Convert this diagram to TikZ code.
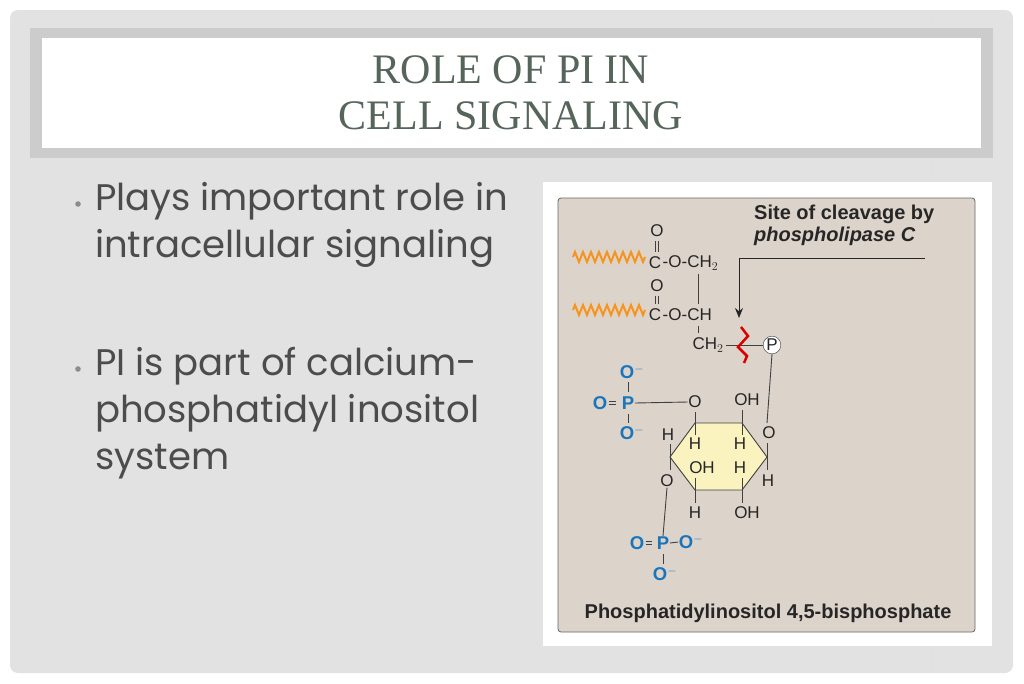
\documentclass[tikz,border=0pt]{standalone}
\usepackage{fontspec}
\setmainfont{Liberation Sans}
\newfontfamily\titlefont{Liberation Serif}
\newfontfamily\bodyfont{Poppins}
\usetikzlibrary{arrows.meta,decorations.pathmorphing}
\definecolor{bg}{HTML}{E2E2E2}
\definecolor{tan}{HTML}{DCD3CA}
\definecolor{ttl}{HTML}{56655A}
\definecolor{bluec}{HTML}{1B75BB}
\definecolor{orng}{HTML}{F7941D}
\definecolor{ring}{HTML}{FAF3C0}
\tikzset{
 ch/.style={font=\fontsize{17}{17}\selectfont, inner sep=0.5pt, text=black!85},
 bl/.style={font=\fontsize{18.5}{18}\selectfont\bfseries, inner sep=0.5pt, text=bluec},
 bd/.style={line width=0.9pt, black!75},
 bullet/.style={font=\bodyfont\fontsize{37}{47}\selectfont, text=black!70, anchor=north west, align=left, inner sep=0}
}
\begin{document}
\begin{tikzpicture}[x=1pt,y=-1pt]
\useasboundingbox (0,0) rectangle (1024,683);
\fill[white] (0,0) rectangle (1024,683);
\fill[bg, rounded corners=8] (10,10) rectangle (1013,673);
\draw[black!12] (932,10) -- (932,673);
% title
\fill[black!20] (30,28) rectangle (993,158);
\fill[white] (42,38) rectangle (981,148);
\node[font=\titlefont\fontsize{42}{46}\selectfont, text=ttl, align=center] (title) at (511,93) {ROLE OF PI IN\\CELL SIGNALING};
% bullets
\node[bullet] (b1) at (95,182) {Plays important role in\\intracellular signaling};
\node[bullet] (b2) at (95,347) {PI is part of calcium-\\phosphatidyl inositol\\system};
\fill[black!45] (78,204) circle (2.8);
\fill[black!45] (78,369) circle (2.8);
% figure
\fill[white] (543,182) rectangle (992,646);
\draw[black!60, fill=tan, rounded corners=3, line width=0.8pt] (558,198) rectangle (975,632);
\node[font=\fontsize{20}{22}\selectfont\bfseries, text=black!85, align=left, anchor=north west, inner sep=0] (site) at (754,205) {Site of cleavage by\\\itshape phospholipase C};
\node[font=\fontsize{20}{22}\selectfont\bfseries, text=black!85] (cap) at (768,613) {Phosphatidylinositol 4,5-bisphosphate};
% lipid chains
\draw[orng, line width=2pt, decoration={zigzag, segment length=8, amplitude=5}, decorate] (573,257) -- (645,257);
\draw[orng, line width=2pt, decoration={zigzag, segment length=8, amplitude=5}, decorate] (573,310) -- (645,310);
\node[ch] (c1) at (655,263) {C};
\node[ch] (o1) at (657,231) {O};
\draw[bd] (655.5,241) -- (655.5,252) (658.5,241) -- (658.5,252);
\node[ch] (c2) at (655,315) {C};
\node[ch] (o2) at (657,286) {O};
\draw[bd] (655.5,296) -- (655.5,304) (658.5,296) -- (658.5,304);
\node[ch, anchor=west] (r1) at (662,263) {-O-CH$_2$};
\node[ch, anchor=west] (r2) at (662,315) {-O-CH};
\draw[bd] (698,274) -- (698,304) (698,326) -- (698,333);
\node[ch] (ch2) at (708,345) {CH$_2$};
% cleavage
\coordinate (arrS) at (925,258);
\coordinate (arrM) at (739,258);
\coordinate (arrE) at (739,318);
\draw[black!85, line width=1pt, -{Stealth[length=10pt,width=8pt]}] (arrS) -- (arrM) -- (arrE);
\node[draw=black!80, fill=white, circle, inner sep=0.5pt, minimum size=15pt, ch] (P) at (772,345) {P};
\draw[bd] (ch2.east) ++(2,0) -- (P.west);
\draw[red!85!black, line width=2.5pt] (741,327) -- (748,336) -- (738,347) -- (747,356) -- (744,363);
% inositol ring
\fill[ring, draw=black!75, line width=0.9pt] (695,423) -- (742,423) -- (767,457) -- (742,490) -- (695,490) -- (670,457) -- cycle;
\node[ch] (Ot) at (769,433) {O};
\draw[bd] (P.south) -- (767,423);
\draw[bd] (767,443) -- (767,457) -- (767,470);
\node[ch] (H6) at (768,481) {H};
\node[ch] (O1) at (695,402) {O};
\node[ch] (OH1) at (747,400) {OH};
\draw[bd] (695,412) -- (695,435) (742,410) -- (742,435);
\node[ch] (Ha) at (695,444) {H};
\node[ch] (Hb) at (740,444) {H};
\node[ch] (OHc) at (702,468) {OH};
\node[ch] (Hd) at (740,468) {H};
\draw[bd] (695,478) -- (695,503) (742,478) -- (742,503);
\node[ch] (Hl) at (668,435) {H};
\draw[bd] (670,444) -- (670,470);
\node[ch] (O5) at (667,481) {O};
\node[ch] (Hbot) at (695,513) {H};
\node[ch] (OHbot) at (747,513) {OH};
% phosphates
\node[bl] (Pa) at (628,403) {P};
\node[bl] (Oa) at (600,403) {O};
\node[bl] (Om1) at (632,372) {O$^{-}$};
\node[bl] (Om2) at (632,433) {O$^{-}$};
\draw[bd] (Oa.east) ++(1,-1.5) -- ++(7,0) ++(0,3) -- ++(-7,0);
\draw[bd] (628,382) -- (628,392) (628,414) -- (628,423);
\draw[bd] (Pa.east) -- (O1.west);
\node[bl] (Pb) at (663,543) {P};
\node[bl] (Ob) at (637,543) {O};
\node[bl] (Om3) at (691,542) {O$^{-}$};
\node[bl] (Om4) at (665,574) {O$^{-}$};
\draw[bd] (Ob.east) ++(1,-1.5) -- ++(6,0) ++(0,3) -- ++(-6,0);
\draw[bd] (Pb.east) -- (Om3.west);
\draw[bd] (663,554) -- (663,564);
\draw[bd] (O5.south) -- (Pb.north);
\end{tikzpicture}
\end{document}
